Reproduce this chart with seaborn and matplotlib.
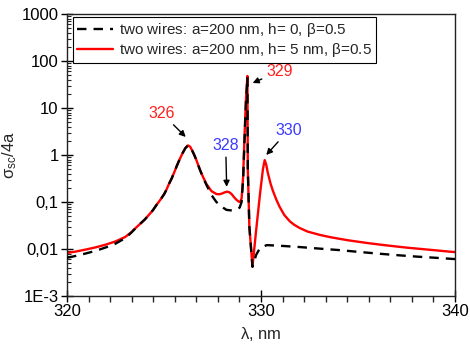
import matplotlib
matplotlib.use("Agg")
import matplotlib.pyplot as plt
import seaborn as sns
import pandas as pd
import numpy as np
from matplotlib.ticker import FixedLocator, LogLocator, NullFormatter, AutoMinorLocator, FixedFormatter

# ---------------- data ----------------
lam_h0 = [320.0, 320.5, 321.0, 321.5, 322.0, 322.5, 323.0, 323.3, 323.58, 324.0, 324.2, 324.43,
          324.6, 324.8, 325.0, 325.12, 325.25, 325.4, 325.52, 325.64, 325.8, 325.95, 326.1,
          326.24, 326.35, 326.45, 326.56, 326.67, 326.84, 327.0, 327.19,
          327.45, 327.7, 328.0, 328.22, 328.5, 328.75, 328.9, 329.0, 329.08, 329.15, 329.22, 329.3,
          329.32, 329.4, 329.56, 329.75, 329.95, 330.3, 331.0, 332.0, 333.0, 334.0,
          335.0, 336.0, 337.0, 338.0, 339.0, 340.0]
sig_h0 = [0.0065, 0.0072, 0.0081, 0.0092, 0.0108, 0.013, 0.017, 0.022, 0.029, 0.042, 0.052, 0.067,
          0.085, 0.11, 0.145, 0.18, 0.24, 0.32, 0.42, 0.56, 0.8, 1.08, 1.4,
          1.6, 1.5, 1.25, 1.0, 0.78, 0.5, 0.34, 0.23,
          0.14, 0.10, 0.078, 0.068, 0.066, 0.07, 0.076, 0.1, 0.3, 2.0, 12, 45,
          0.5, 0.03, 0.0042, 0.0075, 0.0105, 0.0121, 0.0117, 0.011, 0.0102, 0.0095,
          0.0087, 0.008, 0.0074, 0.0069, 0.0065, 0.0061]

lam_h5 = [320.0, 320.5, 321.0, 321.5, 322.0, 322.5, 323.0, 323.3, 323.58, 324.0, 324.2, 324.43,
          324.6, 324.8, 325.0, 325.12, 325.25, 325.4, 325.52, 325.64, 325.8, 325.95, 326.1,
          326.24, 326.35, 326.45, 326.56, 326.67, 326.84, 327.0, 327.19,
          327.45, 327.7, 327.85, 328.0, 328.12, 328.25, 328.38, 328.5, 328.62, 328.75, 328.85,
          328.93, 329.0, 329.08, 329.15, 329.22,
          329.3, 329.32, 329.4, 329.56, 329.75, 329.95, 330.1, 330.19, 330.27, 330.35, 330.5,
          330.62, 330.8, 330.96, 331.2, 331.48, 331.7, 331.99, 332.4, 333.02, 333.5, 334.0,
          334.5, 335.0, 335.6, 336.5, 337.5, 338.5, 339.7, 340.0]
sig_h5 = [0.0082, 0.0089, 0.0098, 0.0109, 0.0124, 0.0145, 0.018, 0.0225, 0.029, 0.042, 0.052, 0.067,
          0.085, 0.11, 0.145, 0.18, 0.24, 0.32, 0.42, 0.56, 0.8, 1.08, 1.4,
          1.6, 1.5, 1.25, 1.0, 0.78, 0.5, 0.35, 0.24,
          0.17, 0.148, 0.146, 0.152, 0.16, 0.166, 0.16, 0.145, 0.125, 0.11, 0.102,
          0.10, 0.12, 0.35, 2.5, 14,
          48, 0.5, 0.03, 0.0042, 0.025, 0.15, 0.5, 0.78, 0.62, 0.42, 0.24,
          0.17, 0.11, 0.079, 0.053, 0.039, 0.033, 0.028, 0.0235, 0.020, 0.0181, 0.0166,
          0.0153, 0.0143, 0.0132, 0.0119, 0.0107, 0.0098, 0.0088, 0.0086]

label_h0 = r"two wires: a=200 nm, h= 0, $\beta$=0.5"
label_h5 = r"two wires: a=200 nm, h= 5 nm, $\beta$=0.5"

y_ticks = [1e-3, 1e-2, 1e-1, 1, 10, 100, 1000]
y_tick_labels = ["1E-3", "0,01", "0,1", "1", "10", "100", "1000"]
x_ticks = [320, 330, 340]

# annotations: (text, text position (lam, sigma), arrow tip (lam, sigma), color)
ann_text = ["326", "328", "329", "330"]
ann_xy_text = [(324.88, 7.8), (328.18, 1.63), (330.96, 61.0), (331.43, 3.4)]
ann_xy_tip = [(326.12, 2.42), (328.23, 0.21), (329.57, 34.0), (330.27, 1.0)]
ann_colors = ["#ff2020", "#3a3aff", "#ff2020", "#3a3aff"]

# ---------------- style ----------------
sns.set_style("ticks")
plt.rcParams["font.family"] = ["Liberation Sans", "DejaVu Sans"]
plt.rcParams["mathtext.fontset"] = "custom"
plt.rcParams["mathtext.rm"] = "Liberation Sans"
plt.rcParams["mathtext.it"] = "Liberation Sans:italic"
plt.rcParams["mathtext.default"] = "regular"

fig = plt.figure(figsize=(4.7, 3.56), dpi=100)
ax = fig.add_axes([67 / 470, 60 / 356, 388 / 470, 282 / 356])

df0 = pd.DataFrame({"lam": lam_h0, "sig": sig_h0})
df5 = pd.DataFrame({"lam": lam_h5, "sig": sig_h5})

sns.lineplot(data=df5, x="lam", y="sig", ax=ax, color="#ff0000", lw=1.7,
             estimator=None, sort=False, label=label_h5, zorder=2)
sns.lineplot(data=df0, x="lam", y="sig", ax=ax, color="black", lw=1.7,
             estimator=None, sort=False, label=label_h0, zorder=3,
             dashes=False)
ax.lines[1].set_dashes((4, 3))
for ln in ax.lines:
    ln.set_solid_joinstyle("round")
    ln.set_dash_joinstyle("round")

ax.set_yscale("log")
ax.set_xlim(320, 340)
ax.set_ylim(1e-3, 1000)

ax.yaxis.set_major_locator(FixedLocator(y_ticks))
ax.yaxis.set_major_formatter(FixedFormatter(y_tick_labels))
ax.yaxis.set_minor_locator(LogLocator(base=10, subs=np.arange(2, 10), numticks=20))
ax.yaxis.set_minor_formatter(NullFormatter())
ax.xaxis.set_major_locator(FixedLocator(x_ticks))
ax.xaxis.set_minor_locator(AutoMinorLocator(9))

ax.tick_params(axis="both", which="major", direction="inout", length=8, width=1,
               labelsize=12, colors="black", pad=2)
ax.tick_params(axis="x", which="minor", direction="out", length=4, width=1)
ax.tick_params(axis="y", which="minor", direction="in", length=3, width=0.8)
for s in ax.spines.values():
    s.set_visible(True)
    s.set_linewidth(1.0)
    s.set_color("#222222")

ax.set_xlabel(r"$\lambda$, nm", fontsize=12, labelpad=4)
ax.set_ylabel(r"$\sigma_{sc}$/4a", fontsize=12, labelpad=2)

# legend: black first
handles, labels = ax.get_legend_handles_labels()
order = [labels.index(label_h0), labels.index(label_h5)]
leg = ax.legend([handles[i] for i in order], [labels[i] for i in order],
                loc="upper left", bbox_to_anchor=(0.015, 0.988), borderaxespad=0,
                fancybox=False, edgecolor="black", framealpha=1, fontsize=11,
                handlelength=2.4, handletextpad=0.4, labelspacing=0.15, borderpad=0.25)
leg.get_frame().set_linewidth(0.8)
leg.get_lines()[0].set_dashes((4, 3))

for t, xyt, xy, c in zip(ann_text, ann_xy_text, ann_xy_tip, ann_colors):
    ax.annotate(t, xy=xy, xytext=xyt, textcoords="data", color=c, fontsize=11.5,
                ha="center", va="center",
                arrowprops=dict(arrowstyle="-|>", color="black", lw=1.0,
                                mutation_scale=9, shrinkA=1, shrinkB=0))

fig.savefig("out.png", dpi=100)
